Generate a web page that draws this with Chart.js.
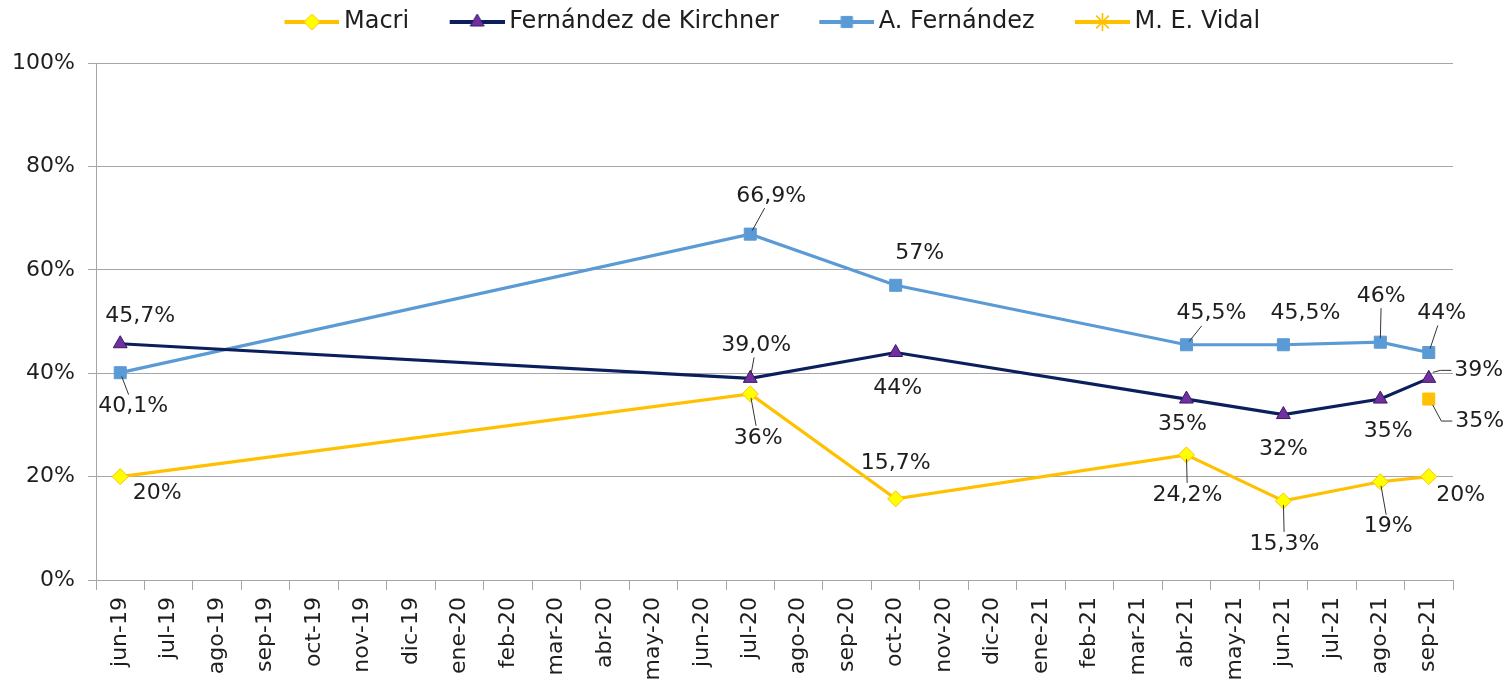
<!DOCTYPE html>
<html>
<head>
<meta charset="utf-8">
<script src="https://cdn.jsdelivr.net/npm/chart.js@4/dist/chart.umd.min.js"></script>
<style>
  html, body { margin: 0; padding: 0; background: #fff; }
  #wrap { width: 1509px; height: 693px; }
</style>
</head>
<body>
<div id="wrap"><canvas id="encuestas"></canvas></div>
<script>
var N = null;
var months = ["jun-19", "jul-19", "ago-19", "sep-19", "oct-19", "nov-19", "dic-19",
  "ene-20", "feb-20", "mar-20", "abr-20", "may-20", "jun-20", "jul-20", "ago-20",
  "sep-20", "oct-20", "nov-20", "dic-20", "ene-21", "feb-21", "mar-21", "abr-21",
  "may-21", "jun-21", "jul-21", "ago-21", "sep-21"];
var macri    = [20,   N,N,N,N,N,N,N,N,N,N,N,N, 36,   N,N, 15.7, N,N,N,N,N, 24.2, N, 15.3, N, 19,   20];
var kirchner = [45.7, N,N,N,N,N,N,N,N,N,N,N,N, 39.0, N,N, 44,   N,N,N,N,N, 35,   N, 32,   N, 35,   39];
var albertoF = [40.1, N,N,N,N,N,N,N,N,N,N,N,N, 66.9, N,N, 57,   N,N,N,N,N, 45.5, N, 45.5, N, 46,   44];
var vidal    = [N,    N,N,N,N,N,N,N,N,N,N,N,N, N,    N,N, N,    N,N,N,N,N, N,    N, N,    N, N,    35];
var yTicks = [0, 20, 40, 60, 80, 100];

var GOLD = "#FFC000", NAVY = "#0B1F5C", PURPLE = "#7030A0", SKY = "#5B9BD5";
var GRID = "#A6A6A6", INK = "#1E1E1E";
var FONT = '"DejaVu Sans", sans-serif';

// where each value label sits, relative to its point (px)
var labelSpots = [
  { 0: {dx: 37, dy: 17}, 13: {dx: 8, dy: 44, lead: true}, 16: {dx: 0, dy: -36},
    22: {dx: 1, dy: 40, lead: true}, 24: {dx: 1, dy: 43, lead: true},
    26: {dx: 8, dy: 45, lead: true}, 27: {dx: 32, dy: 19} },
  { 0: {dx: 20, dy: -27}, 13: {dx: 6, dy: -33, lead: true, dec: 1}, 16: {dx: 2, dy: 36},
    22: {dx: -4, dy: 25}, 24: {dx: 0, dy: 35}, 26: {dx: 8, dy: 32},
    27: {dx: 50, dy: -8, elbow: true} },
  { 0: {dx: 13, dy: 34, lead: true}, 13: {dx: 21, dy: -38, lead: true}, 16: {dx: 24, dy: -32},
    22: {dx: 25, dy: -31, lead: true}, 24: {dx: 22, dy: -31},
    26: {dx: 1, dy: -46, lead: true}, 27: {dx: 13, dy: -39, lead: true} },
  { 27: {dx: 51, dy: 22, elbow: true} }
];

function fmt(v, dec) {
  return v.toFixed(dec != null ? dec : (v % 1 ? 1 : 0)).replace(".", ",") + "%";
}

function marker(g, style, x, y, r, fill, stroke) {
  g.fillStyle = fill; g.strokeStyle = stroke; g.lineWidth = 1;
  g.beginPath();
  if (style === "rectRot") {
    g.moveTo(x, y - r); g.lineTo(x + r, y); g.lineTo(x, y + r); g.lineTo(x - r, y);
  } else if (style === "triangle") {
    g.moveTo(x, y - r); g.lineTo(x + r * 0.87, y + r * 0.5); g.lineTo(x - r * 0.87, y + r * 0.5);
  } else if (style === "rect") {
    g.rect(x - r * 0.7, y - r * 0.7, r * 1.4, r * 1.4);
  } else if (style === "star") {
    g.lineWidth = 1.6;
    for (var k = 0; k < 4; k++) {
      var a = k * Math.PI / 4;
      g.moveTo(x - Math.cos(a) * r, y - Math.sin(a) * r);
      g.lineTo(x + Math.cos(a) * r, y + Math.sin(a) * r);
    }
    g.stroke();
    return;
  }
  g.closePath(); g.fill(); g.stroke();
}

function legendIcon(color, style, fill, stroke) {
  var c = document.createElement("canvas");
  c.width = 93; c.height = 22;
  var g = c.getContext("2d");
  if (color) {
    g.strokeStyle = color; g.lineWidth = 4;
    g.beginPath(); g.moveTo(38, 11); g.lineTo(93, 11); g.stroke();
    marker(g, style, 65.5, 11, style === "star" ? 9 : 8, fill, stroke);
  }
  return c;
}

var spacer = legendIcon(null);
var icons = [
  legendIcon(GOLD, "rectRot", "#FFFF00", GOLD),
  legendIcon(NAVY, "triangle", PURPLE, "#3A1A66"),
  legendIcon(SKY, "rect", SKY, SKY),
  legendIcon(GOLD, "star", GOLD, GOLD)
];

// a bit more room under the legend
var legendRoom = {
  id: "legendRoom",
  afterInit: function (chart) {
    var lg = chart.legend, fit = lg.fit;
    lg.fit = function () {
      fit.apply(this, arguments);
      this.height += 19;
    };
  }
};

var pointLabels = {
  id: "pointLabels",
  afterDatasetsDraw: function (chart) {
    var ctx = chart.ctx;
    ctx.save();
    ctx.font = "22px " + FONT;
    ctx.textAlign = "center";
    ctx.textBaseline = "middle";
    ctx.fillStyle = INK;
    ctx.strokeStyle = "#333";
    ctx.lineWidth = 1;
    chart.data.datasets.forEach(function (ds, di) {
      var meta = chart.getDatasetMeta(di);
      meta.data.forEach(function (pt, i) {
        var v = ds.data[i], s = labelSpots[di][i];
        if (v == null || !s) return;
        var text = fmt(v, s.dec);
        var lx = pt.x + s.dx, ly = pt.y + s.dy;
        var w = ctx.measureText(text).width, h = 18;
        if (s.lead) {
          var ux = lx - pt.x, uy = ly - pt.y, len = Math.sqrt(ux * ux + uy * uy);
          ux /= len; uy /= len;
          var tx = ux ? (w / 2 + 3) / Math.abs(ux) : 1e9;
          var ty = uy ? (h / 2 + 3) / Math.abs(uy) : 1e9;
          var stop = len - Math.min(tx, ty);
          ctx.beginPath();
          ctx.moveTo(pt.x + ux * 4, pt.y + uy * 4);
          ctx.lineTo(pt.x + ux * stop, pt.y + uy * stop);
          ctx.stroke();
        }
        if (s.elbow) {
          var left = lx - w / 2;
          ctx.beginPath();
          ctx.moveTo(pt.x + 4, pt.y + (s.dy < 0 ? -6 : 6));
          ctx.lineTo(left - 14, ly);
          ctx.lineTo(left - 3, ly);
          ctx.stroke();
        }
        ctx.fillText(text, lx, ly);
      });
    });
    ctx.restore();
  }
};

function blankItem(text) {
  return { text: text, pointStyle: spacer, fillStyle: "transparent", strokeStyle: "transparent",
           lineWidth: 0, hidden: false, fontColor: INK };
}

new Chart(document.getElementById("encuestas"), {
  type: "line",
  data: {
    labels: months,
    datasets: [
      { label: "Macri", data: macri, borderColor: GOLD, backgroundColor: "#FFFF00",
        pointStyle: "rectRot", pointRadius: 8, pointBorderColor: GOLD, pointBorderWidth: 1 },
      { label: "Fernández de Kirchner", data: kirchner, borderColor: NAVY, backgroundColor: PURPLE,
        pointStyle: "triangle", pointRadius: 8, pointBorderColor: "#3A1A66", pointBorderWidth: 1 },
      { label: "A. Fernández", data: albertoF, borderColor: SKY, backgroundColor: SKY,
        pointStyle: "rect", pointRadius: 8.5, pointBorderColor: SKY, pointBorderWidth: 1 },
      { label: "M. E. Vidal", data: vidal, borderColor: GOLD, backgroundColor: GOLD,
        pointStyle: "rect", pointRadius: 8.5, pointBorderColor: GOLD, pointBorderWidth: 1 }
    ]
  },
  options: {
    responsive: true,
    maintainAspectRatio: false,
    animation: false,
    spanGaps: true,
    elements: { line: { borderWidth: 3.2, tension: 0 } },
    layout: { padding: { left: 0, right: 56, top: 0, bottom: 0 } },
    plugins: {
      tooltip: { enabled: false },
      legend: {
        position: "top",
        labels: {
          usePointStyle: true,
          pointStyleWidth: 78,
          padding: 10,
          color: INK,
          font: { family: FONT, size: 24 },
          generateLabels: function (chart) {
            var items = [blankItem("        ")];
            chart.data.datasets.forEach(function (ds, i) {
              items.push({ text: ds.label, pointStyle: icons[i], fillStyle: "transparent",
                           strokeStyle: "transparent", lineWidth: 0, hidden: false,
                           datasetIndex: i, fontColor: INK });
            });
            items.push(blankItem(""));
            return items;
          }
        }
      }
    },
    scales: {
      x: {
        offset: true,
        grid: { offset: true, drawOnChartArea: false, tickLength: 10, color: GRID },
        border: { color: GRID },
        ticks: { autoSkip: false, minRotation: 90, maxRotation: 90, padding: 7,
                 color: INK, font: { family: FONT, size: 22 } },
        afterFit: function (scale) { scale.height = 113; }
      },
      y: {
        min: 0,
        max: 100,
        grid: { color: GRID, tickLength: 8 },
        border: { color: GRID },
        ticks: { padding: 13, color: INK, font: { family: FONT, size: 22 },
                 callback: function (v) { return v + "%"; } },
        afterBuildTicks: function (scale) {
          scale.ticks = yTicks.map(function (v) { return { value: v }; });
        },
        afterFit: function (scale) { scale.width = 96; }
      }
    }
  },
  plugins: [legendRoom, pointLabels]
});
</script>
</body>
</html>
